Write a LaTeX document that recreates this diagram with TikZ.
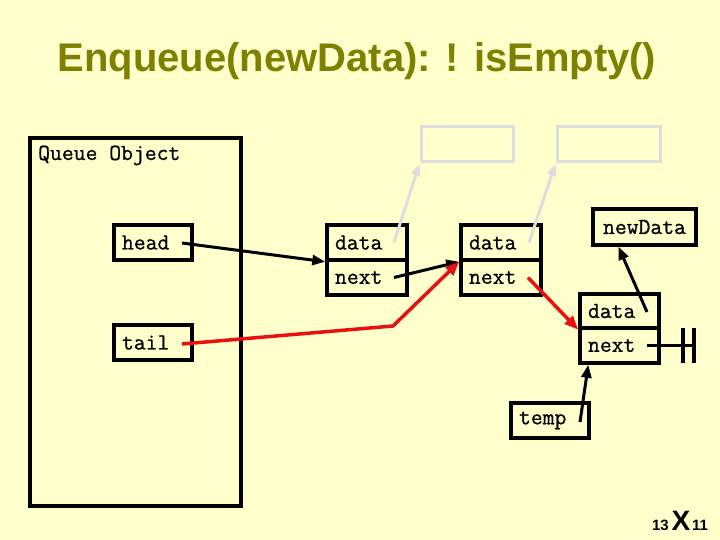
\documentclass[tikz,border=0pt]{standalone}
\usepackage{fontspec}
\setmainfont{Liberation Sans}
\newfontfamily\cellfam[FakeBold=0.8]{Latin Modern Mono}
\usetikzlibrary{arrows.meta,calc}
\definecolor{bgyellow}{RGB}{255,255,204}
\definecolor{titleolive}{RGB}{128,128,0}
\definecolor{ghost}{RGB}{221,221,221}
\definecolor{ptrred}{RGB}{232,16,16}
\newcommand{\cellfont}{\cellfam\fontsize{23}{25}\selectfont}
\tikzset{
  cellbox/.style={draw=black, line width=3.5pt, rectangle, inner sep=0pt,
    font=\cellfont},
  leftcell/.style={cellbox, text width=#1, align=left},
  ghostbox/.style={draw=ghost, line width=3pt, rectangle, inner sep=0pt},
  blackptr/.style={line width=3pt, draw=black,
    -{Triangle[length=13pt,width=10pt]}},
  redptr/.style={line width=3.5pt, draw=ptrred,
    -{Triangle[length=14pt,width=11pt]}},
  ghostptr/.style={line width=3pt, draw=ghost,
    -{Triangle[length=12pt,width=9pt]}},
}
\begin{document}
\begin{tikzpicture}[x=1pt,y=-1pt]
\fill[bgyellow] (0,0) rectangle (720,540);
\useasboundingbox (0,0) rectangle (720,540);

% title
\node[text=titleolive, font=\fontsize{40}{44}\selectfont\bfseries, anchor=base] (title) at (357,72) {Enqueue(newData): ! isEmpty()};

% queue object
\node[draw=black, line width=3.5pt, minimum width=211pt, minimum height=368pt, inner sep=0pt] (qobj) at (135.5,322) {};
\node[font=\cellfont, anchor=base west, inner sep=0pt] (qlabel) at (38,160) {Queue Object};

% head / tail
\node[leftcell=62pt, minimum height=35pt, inner xsep=8pt] (head) at (153,242.5) {head};
\node[leftcell=62pt, minimum height=35pt, inner xsep=8pt] (tail) at (153,342.5) {tail};

% node 1
\node[leftcell=64pt, minimum height=35pt, inner xsep=8pt] (n1d) at (367,242.5) {data};
\node[leftcell=64pt, minimum height=35pt, inner xsep=8pt] (n1n) at (367,277.5) {next};
% node 2
\node[leftcell=64pt, minimum height=35pt, inner xsep=8pt] (n2d) at (501,242.5) {data};
\node[leftcell=64pt, minimum height=35pt, inner xsep=8pt] (n2n) at (501,277.5) {next};
% new node
\node[leftcell=63pt, minimum height=34pt, inner xsep=8pt] (n3d) at (619.5,311) {data};
\node[leftcell=63pt, minimum height=35pt, inner xsep=8pt] (n3n) at (619.5,345.5) {next};
% newData
\node[cellbox, minimum width=103pt, minimum height=36pt] (nd) at (644.5,227) {newData};
% temp
\node[leftcell=62pt, minimum height=35pt, inner xsep=8pt] (temp) at (550,420.5) {temp};

% ghost data boxes
\node[ghostbox, minimum width=92pt, minimum height=35pt] (g1) at (467,144.5) {};
\node[ghostbox, minimum width=103pt, minimum height=35pt] (g2) at (608.5,144.5) {};

% pointer start points
\coordinate (hp) at ($(head.center)+(29,0.5)$);
\coordinate (tp) at ($(tail.center)+(29,1.5)$);
\coordinate (tbend) at (393,326);
\coordinate (n1dp) at ($(n1d.center)+(27,0)$);
\coordinate (n1np) at ($(n1n.center)+(27,0)$);
\coordinate (n2dp) at ($(n2d.center)+(28,0)$);
\coordinate (n2np) at ($(n2n.center)+(27,0)$);
\coordinate (n3dp) at ($(n3d.center)+(27.5,1)$);
\coordinate (n3np) at ($(n3n.center)+(27.5,0)$);
\coordinate (tmpp) at ($(temp.center)+(30,1.5)$);
\coordinate (gnd) at (694,345.5);

% ghost pointers
\draw[ghostptr] (n1dp) -- (g1.south west);
\draw[ghostptr] (n2dp) -- (g2.south west);

% black pointers
\draw[blackptr] (hp) -- (n1d.south west);
\draw[blackptr] (n1np) -- (n2d.south west);
\draw[blackptr] (n3dp) -- ($(nd.south)+(-26,0)$);
\draw[blackptr] (tmpp) -- ($(n3n.south west)+(10,0)$);

% red pointers
\draw[redptr] (tp) -- (tbend) -- (n2d.south west);
\draw[redptr] (n2np) -- (n3d.south west);

% null ground
\draw[line width=3.5pt] (n3np) -- (gnd);
\draw[line width=3.5pt] (683,328) -- (683,363);
\draw[line width=3.5pt] (694,328) -- (694,363);

% page number
\node[font=\bfseries\fontsize{15}{16}\selectfont, anchor=base east, inner sep=0pt] (pl) at (669,530) {13};
\node[font=\bfseries\fontsize{28}{30}\selectfont, anchor=base, inner sep=0pt] (px) at (681,530) {X};
\node[font=\bfseries\fontsize{15}{16}\selectfont, anchor=base west, inner sep=0pt] (pr) at (692,530) {11};
\end{tikzpicture}
\end{document}
